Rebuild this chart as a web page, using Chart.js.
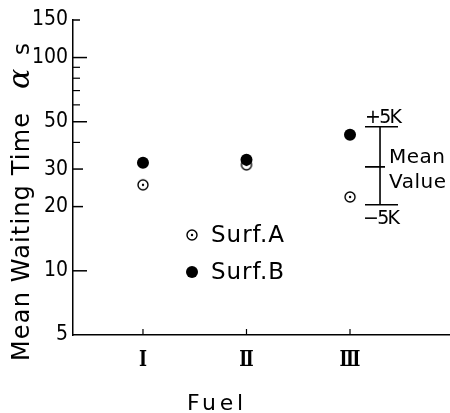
<!DOCTYPE html>
<html><head><meta charset="utf-8">
<script src="https://cdn.jsdelivr.net/npm/chart.js@4"></script>
<style>html,body{margin:0;padding:0;background:#fff}canvas{display:block}</style>
</head><body>
<canvas id="c" width="450" height="413"></canvas>
<script>
// ---- data ----
const categories = ['Ⅰ', 'Ⅱ', 'Ⅲ'];
const surfA = [25.3, 31.4, 22.2];
const surfB = [32.1, 33.2, 43.4];
const yTickValues = [5, 10, 20, 30, 50, 100, 150];
const yMinorTickValues = [40, 60, 70, 80, 90];
const rangeBarValues = [20.4, 30.7, 47.4]; // -5K, mean, +5K
const rangeBarLabels = ['−5K', 'Mean', 'Value', '+5K'];
const seriesNames = ['Surf.A', 'Surf.B'];

function openDot() {
  const c = document.createElement('canvas');
  c.width = 14; c.height = 14;
  const g = c.getContext('2d');
  g.strokeStyle = '#000'; g.lineWidth = 1.4;
  g.beginPath(); g.arc(7, 7, 5, 0, Math.PI * 2); g.stroke();
  g.fillStyle = '#000';
  g.beginPath(); g.arc(7, 7, 1.2, 0, Math.PI * 2); g.fill();
  return c;
}
const openStyle = openDot();

const SANS = '"DejaVu Sans", sans-serif';
const COND = '"DejaVu Sans Condensed", "DejaVu Sans", sans-serif';

function spaced(ctx, text, x, y, target) {
  ctx.letterSpacing = '0px';
  const w = ctx.measureText(text).width;
  const n = text.length;
  const ls = n > 1 ? (target - w) / (n - 1) : 0;
  ctx.letterSpacing = ls + 'px';
  ctx.fillText(text, x, y);
  ctx.letterSpacing = '0px';
}

const decor = {
  id: 'decor',
  afterDraw(chart) {
    const ctx = chart.ctx, ca = chart.chartArea;
    const ys = chart.scales.y, xs = chart.scales.x;
    ctx.save();
    ctx.strokeStyle = '#000'; ctx.fillStyle = '#000';
    ctx.lineWidth = 1.5;
    const lenMap = {5: 0, 10: 14, 20: 10, 30: 10, 50: 14, 100: 14, 150: 7};
    yTickValues.forEach(v => {
      const p = ys.getPixelForValue(v);
      const L = lenMap[v] !== undefined ? lenMap[v] : 10;
      if (!L) return;
      ctx.beginPath(); ctx.moveTo(ca.left, p); ctx.lineTo(ca.left + L, p); ctx.stroke();
    });
    ctx.lineWidth = 1.2;
    yMinorTickValues.forEach(v => {
      const p = ys.getPixelForValue(v);
      ctx.beginPath(); ctx.moveTo(ca.left, p); ctx.lineTo(ca.left + 7, p); ctx.stroke();
    });
    // x ticks (inward) and labels
    ctx.font = 'bold 22px "DejaVu Serif", serif';
    ctx.textAlign = 'center'; ctx.textBaseline = 'middle';
    categories.forEach((c, i) => {
      const p = xs.getPixelForValue(i + 1);
      ctx.beginPath(); ctx.moveTo(p, ca.bottom); ctx.lineTo(p, ca.bottom - 6); ctx.stroke();
      ctx.save();
      ctx.translate(p, ca.bottom + 25);
      ctx.scale(0.78, 1);
      ctx.fillText(c, 0, 0);
      ctx.restore();
    });
    ctx.textAlign = 'left';
    // range bar
    const bx = xs.getPixelForValue(3.29);
    const [lo, mid, hi] = rangeBarValues.map(v => ys.getPixelForValue(v));
    ctx.lineWidth = 1.6;
    ctx.beginPath();
    ctx.moveTo(bx, hi); ctx.lineTo(bx, lo);
    ctx.moveTo(bx - 15, hi); ctx.lineTo(bx + 18, hi);
    ctx.moveTo(bx - 15, lo); ctx.lineTo(bx + 18, lo);
    ctx.moveTo(bx - 15, mid); ctx.lineTo(bx + 5, mid);
    ctx.stroke();
    ctx.font = '19px ' + SANS;
    ctx.textBaseline = 'alphabetic';
    spaced(ctx, rangeBarLabels[3], bx - 15, hi - 4, 37);
    spaced(ctx, rangeBarLabels[0], bx - 17, lo + 19, 37);
    ctx.font = '20px ' + SANS;
    spaced(ctx, rangeBarLabels[1], bx + 9, mid - 4, 56);
    spaced(ctx, rangeBarLabels[2], bx + 9, mid + 21, 57);
    // legend
    const lx = ca.left + 119, ly1 = ca.top + 215, ly2 = ca.top + 252;
    ctx.drawImage(openStyle, lx - 7, ly1 - 7);
    ctx.beginPath(); ctx.arc(lx, ly2, 6, 0, Math.PI * 2); ctx.fill();
    ctx.font = '23px ' + SANS;
    ctx.textBaseline = 'middle';
    spaced(ctx, seriesNames[0], lx + 19, ly1 + 1, 73);
    spaced(ctx, seriesNames[1], lx + 19, ly2 + 1, 73);
    // x title
    ctx.font = '22px ' + SANS;
    ctx.textBaseline = 'alphabetic';
    spaced(ctx, 'Fuel', 187, 410, 56);
    // y title
    ctx.save();
    ctx.translate(29, 361);
    ctx.rotate(-Math.PI / 2);
    ctx.font = '24px ' + SANS;
    spaced(ctx, 'Mean Waiting Time', 0, 0, 248);
    ctx.font = 'italic 30px "DejaVu Serif", serif';
    ctx.fillText('α', 272, 0);
    ctx.font = '23px ' + SANS;
    ctx.fillText('s', 306, 0);
    ctx.restore();
    ctx.restore();
  }
};

new Chart(document.getElementById('c'), {
  type: 'scatter',
  data: {
    datasets: [
      { label: seriesNames[0], data: surfA.map((v, i) => ({x: i + 1, y: v})),
        pointStyle: openStyle, pointRadius: 6, backgroundColor: '#000', borderColor: '#000' },
      { label: seriesNames[1], data: surfB.map((v, i) => ({x: i + 1, y: v})),
        pointStyle: 'circle', pointRadius: 6, borderWidth: 0, backgroundColor: '#000', borderColor: '#000' }
    ]
  },
  options: {
    responsive: false,
    animation: false,
    layout: { autoPadding: false, padding: { top: 20, left: 0, right: 0, bottom: 0 } },
    plugins: { legend: { display: false }, tooltip: { enabled: false } },
    scales: {
      x: {
        type: 'linear', min: 0.324, max: 3.966,
        afterBuildTicks: s => { s.ticks = categories.map((c, i) => ({value: i + 1})); },
        afterFit: s => { s.height = 78; s.paddingLeft = 0; s.paddingRight = 0; },
        grid: { display: false, drawTicks: false },
        border: { display: true, color: '#000', width: 1.5 },
        ticks: { display: false }
      },
      y: {
        type: 'logarithmic', min: 5, max: 150,
        afterBuildTicks: s => { s.ticks = yTickValues.map(v => ({value: v})); },
        afterFit: s => { s.width = 73; },
        grid: { display: false, drawTicks: false },
        border: { display: true, color: '#000', width: 1.5 },
        ticks: { padding: 5, color: '#000', font: { family: COND, size: 21 },
                 callback: v => String(v) }
      }
    }
  },
  plugins: [decor]
});
</script>
</body></html>
